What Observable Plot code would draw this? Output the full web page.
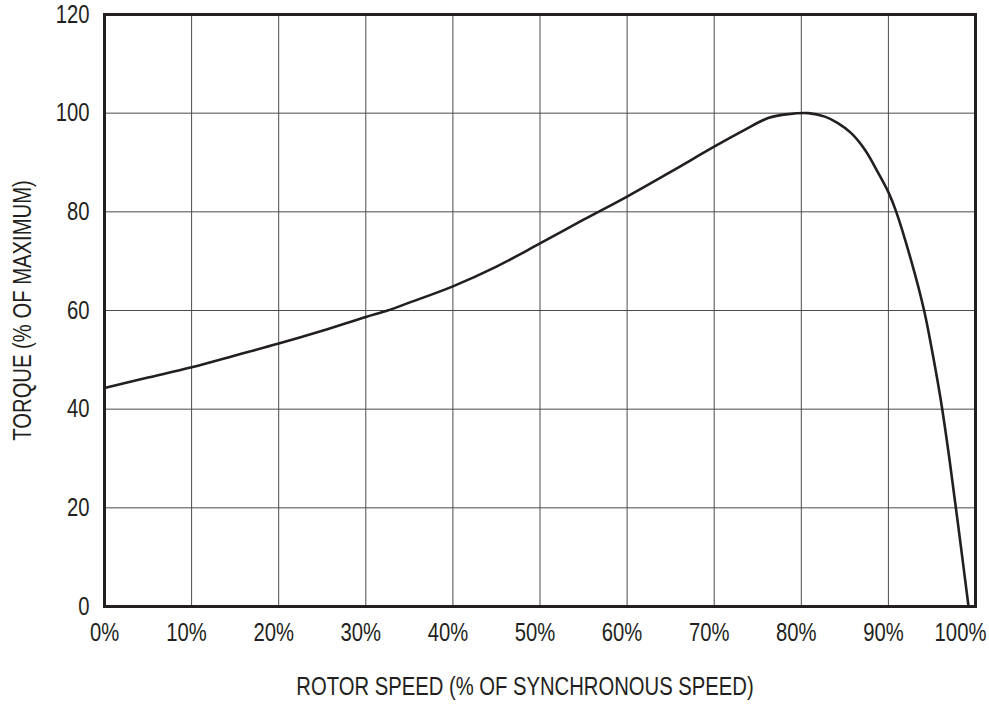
<!DOCTYPE html>
<html>
<head>
<meta charset="utf-8">
<script src="https://cdn.jsdelivr.net/npm/d3@7"></script>
<script src="https://cdn.jsdelivr.net/npm/@observablehq/plot@0.6"></script>
<style>
  html, body { margin: 0; padding: 0; background: #fff; }
  #chart { width: 989px; height: 705px; }
</style>
</head>
<body>
<div id="chart"></div>
<script>
// Rotor speed (% of synchronous speed)
const speed = [0, 5, 10, 15, 20, 25, 30, 32.5, 35, 40, 45, 50, 55, 60, 65, 70, 73.5, 76.2, 78.5, 80.8, 82.7, 84.2, 85.7, 87.3, 88.8, 90, 90.9, 92.6, 94.1, 95, 96, 97, 98, 99.2];
// Torque (% of maximum)
const torque = [44.3, 46.4, 48.5, 50.9, 53.3, 55.9, 58.7, 60, 61.6, 64.9, 68.9, 73.6, 78.4, 83.1, 88.1, 93.2, 96.6, 99.0, 99.8, 100, 99.3, 98.0, 96.0, 92.6, 88.0, 84.0, 80.0, 70.2, 60, 52, 42, 30, 16.6, 0];

const xTicks = [0, 10, 20, 30, 40, 50, 60, 70, 80, 90, 100];
const yTicks = [0, 20, 40, 60, 80, 100, 120];
const xLabel = "ROTOR SPEED (% OF SYNCHRONOUS SPEED)";
const yLabel = "TORQUE (% OF MAXIMUM)";

const data = speed.map((s, i) => ({speed: s, torque: torque[i]}));
const ink = "#231f20";

const chart = Plot.plot({
  width: 989,
  height: 705,
  marginLeft: 104,
  marginRight: 14,
  marginTop: 14,
  marginBottom: 99,
  style: {fontFamily: "'Liberation Sans', Arial, sans-serif", fontSize: "25px", color: ink, background: "#fff"},
  x: {domain: [0, 100]},
  y: {domain: [0, 120]},
  marks: [
    Plot.ruleX(xTicks, {stroke: "#4a4a4a", strokeWidth: 1}),
    Plot.ruleY(yTicks, {stroke: "#4a4a4a", strokeWidth: 1}),
    Plot.line(data, {x: "speed", y: "torque", stroke: ink, strokeWidth: 2.6, curve: "catmull-rom"}),
    Plot.frame({stroke: ink, strokeWidth: 3}),
    Plot.axisX([0], {tickSize: 0, tickPadding: 17, tickFormat: d => d + "%", label: null}),
    Plot.axisX(xTicks.slice(1, -1), {tickSize: 0, tickPadding: 17, dx: -5, tickFormat: d => d + "%", label: null}),
    Plot.axisX([100], {tickSize: 0, tickPadding: 17, dx: -15, tickFormat: d => d + "%", label: null}),
    Plot.text([xLabel], {frameAnchor: "bottom", lineAnchor: "bottom", dy: 88, dx: -15, fill: ink}),
    Plot.axisY(yTicks, {
      tickSize: 0, tickPadding: 15,
      label: yLabel, labelAnchor: "center", labelArrow: "none", labelOffset: 91
    })
  ]
});
document.getElementById("chart").append(chart);

// Condense the glyphs horizontally to match the narrow typeface of the reference
const squeeze = 0.81;
chart.querySelectorAll("text").forEach(t => {
  const tr = t.getAttribute("transform");
  if (tr && /translate/.test(tr) && !t.hasAttribute("x")) {
    // dx is applied in the text's own frame, so compensate it for the scale
    const dx = parseFloat(t.getAttribute("dx"));
    if (!isNaN(dx) && dx !== 0) t.setAttribute("dx", (dx / squeeze).toFixed(2));
    t.setAttribute("transform", tr + ` scale(${squeeze},1)`);
  } else {
    const len = t.getComputedTextLength();
    if (len > 0) {
      t.setAttribute("textLength", (len * squeeze).toFixed(1));
      t.setAttribute("lengthAdjust", "spacingAndGlyphs");
    }
  }
});
</script>
</body>
</html>
